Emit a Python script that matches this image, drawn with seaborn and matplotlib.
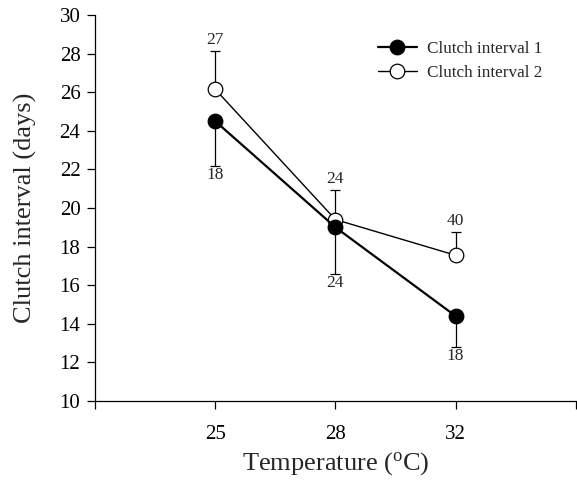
import numpy as np
import pandas as pd
import matplotlib
matplotlib.use("Agg")
import matplotlib.pyplot as plt
import seaborn as sns

temps = ["25", "28", "32"]
ci1_mean = [24.5, 19.0, 14.4]
ci1_se = [2.3, 2.4, 1.6]
ci1_n = ["18", "24", "18"]
ci2_mean = [26.15, 19.4, 17.55]
ci2_se = [2.0, 1.55, 1.2]
ci2_n = ["27", "24", "40"]

sns.set_theme(style="ticks")
plt.rcParams['font.family'] = ['Liberation Serif', 'DejaVu Serif']

fig = plt.figure(figsize=(5.77, 4.83), dpi=100)
ax = fig.add_axes([0.1646, 0.1698, 0.8334, 0.7992])

pos = np.arange(len(temps))
df1 = pd.DataFrame({"pos": pos, "val": ci1_mean})
df2 = pd.DataFrame({"pos": pos, "val": ci2_mean})

# error bars (one-sided)
ax.errorbar(pos, ci1_mean, yerr=[ci1_se, np.zeros(3)], fmt='none', ecolor='black',
            elinewidth=0.9, capsize=3.3, capthick=0.9, zorder=1)
ax.errorbar(pos, ci2_mean, yerr=[np.zeros(3), ci2_se], fmt='none', ecolor='black',
            elinewidth=0.9, capsize=3.3, capthick=0.9, zorder=1)

sns.lineplot(data=df1, x="pos", y="val", ax=ax, color='black', lw=1.6, marker='o',
             markersize=10.5, markerfacecolor='black', markeredgecolor='black',
             markeredgewidth=0.9, label="Clutch interval 1", zorder=3)
sns.lineplot(data=df2, x="pos", y="val", ax=ax, color='black', lw=1.0, marker='o',
             markersize=10.5, markerfacecolor='white', markeredgecolor='black',
             markeredgewidth=0.9, label="Clutch interval 2", zorder=2)

for p, m, s, n in zip(pos, ci1_mean, ci1_se, ci1_n):
    ax.annotate(n, (p, m - s), xytext=(0, -1), textcoords='offset points',
                ha='center', va='top', fontsize=12.5)
for p, m, s, n in zip(pos, ci2_mean, ci2_se, ci2_n):
    ax.annotate(n, (p, m + s), xytext=(0, 2), textcoords='offset points',
                ha='center', va='bottom', fontsize=12.5)

ax.set_xlim(-1, 3)
ax.set_ylim(10, 30)
ax.set_xticks([-1, 0, 1, 2, 3])
ax.set_xticklabels([""] + temps + [""])
ax.set_yticks(np.arange(10, 31, 2))
ax.tick_params(axis='both', direction='out', length=5.5, width=0.9, labelsize=15,
               colors='black', pad=5)
ax.tick_params(axis='x', pad=12)
for sp in ['left', 'bottom']:
    ax.spines[sp].set_linewidth(0.9)
    ax.spines[sp].set_color('black')
ax.spines['top'].set_visible(False)
ax.spines['right'].set_visible(False)

ax.set_xlabel("Temperature ($\\mathregular{^{o}}$C)", fontsize=19, labelpad=4)
ax.set_ylabel("Clutch interval (days)", fontsize=19, labelpad=16)

leg = ax.legend(loc='upper left', bbox_to_anchor=(0.574, 0.95), frameon=False,
                fontsize=12.3, handlelength=2.3, handletextpad=0.55, labelspacing=0.45,
                borderaxespad=0.0)

fig.savefig("out.png", dpi=100)
